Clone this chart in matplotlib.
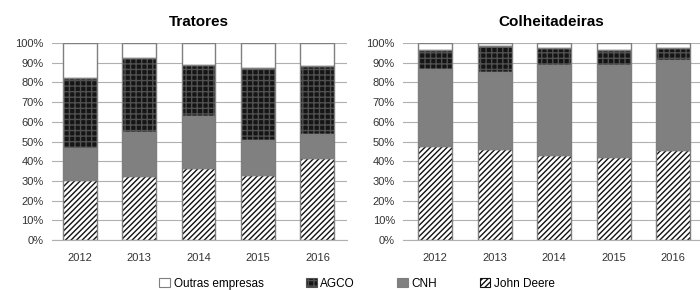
import matplotlib.pyplot as plt
import numpy as np
from matplotlib.patches import Patch

plt.rcParams['font.family'] = ['Liberation Sans', 'DejaVu Sans']
plt.rcParams['hatch.linewidth'] = 1.0

years = ['2012', '2013', '2014', '2015', '2016']

# shares (%)
trat_jd = [30.5, 32.5, 36.5, 33.0, 41.5]
trat_cnh = [16.0, 22.5, 26.5, 18.0, 12.5]
trat_agco = [35.5, 37.5, 26.0, 36.5, 34.5]
trat_outras = [18.0, 7.5, 11.0, 12.5, 11.5]

colh_jd = [47.5, 46.0, 43.0, 42.0, 45.5]
colh_cnh = [39.5, 39.5, 46.0, 47.0, 46.0]
colh_agco = [9.5, 13.0, 8.5, 7.5, 6.0]
colh_outras = [3.5, 1.5, 2.5, 3.5, 2.5]

edge = '#7f7f7f'
styles = {
    'John Deere': dict(color='white', hatch='//////', hatch_ec='#111111'),
    'CNH': dict(color='#808080', hatch=None, hatch_ec=edge),
    'AGCO': dict(color='#151515', hatch='+++', hatch_ec='#505050'),
    'Outras empresas': dict(color='white', hatch=None, hatch_ec=edge),
}


def draw(ax, title, series, xlim):
    x = np.arange(len(years))
    bottom = np.zeros(len(years))
    for name, vals in series:
        st = styles[name]
        # fill + hatch, then a gray outline on top
        ax.bar(x, vals, 0.57, bottom=bottom, color=st['color'],
               hatch=st['hatch'], edgecolor=st['hatch_ec'], linewidth=0, zorder=2)
        ax.bar(x, vals, 0.57, bottom=bottom, fill=False,
               edgecolor=edge, linewidth=1.0, zorder=3)
        bottom += np.array(vals)
    ax.set_ylim(0, 100)
    ax.set_xlim(*xlim)
    ax.set_yticks(range(0, 101, 10))
    ax.set_yticklabels([f'{v}%' for v in range(0, 101, 10)])
    ax.set_xticks(x)
    ax.set_xticklabels(years)
    ax.yaxis.grid(True, color='#b0b0b0', linewidth=0.8, zorder=0)
    ax.set_axisbelow(True)
    for s in ['top', 'right', 'left']:
        ax.spines[s].set_visible(False)
    ax.spines['bottom'].set_color('#b0b0b0')
    ax.tick_params(length=0, labelsize=8, colors='#333333')
    ax.tick_params(axis='x', pad=9)
    ax.tick_params(axis='y', pad=6)
    ax.set_title(title, fontsize=11, fontweight='bold', pad=12)


fig = plt.figure(figsize=(7, 2.9), dpi=100)
ax1 = fig.add_axes([0.074, 0.172, 0.421, 0.68])
ax2 = fig.add_axes([0.576, 0.172, 0.424, 0.68])

draw(ax1, 'Tratores', [('John Deere', trat_jd), ('CNH', trat_cnh),
                       ('AGCO', trat_agco), ('Outras empresas', trat_outras)], (-0.47, 4.49))
draw(ax2, 'Colheitadeiras', [('John Deere', colh_jd), ('CNH', colh_cnh),
                             ('AGCO', colh_agco), ('Outras empresas', colh_outras)], (-0.54, 4.45))

handles = []
for name in ['Outras empresas', 'AGCO', 'CNH', 'John Deere']:
    st = styles[name]
    handles.append(Patch(facecolor=st['color'], hatch=st['hatch'],
                         edgecolor=edge if st['hatch'] is None else st['hatch_ec'],
                         linewidth=0.8, label=name))
fig.legend(handles=handles, loc='lower center', ncol=4, frameon=False,
           fontsize=8.5, bbox_to_anchor=(0.51, -0.035), handlelength=0.9,
           handleheight=0.9, handletextpad=0.3, columnspacing=3.6)

fig.savefig('out.png', dpi=100)
